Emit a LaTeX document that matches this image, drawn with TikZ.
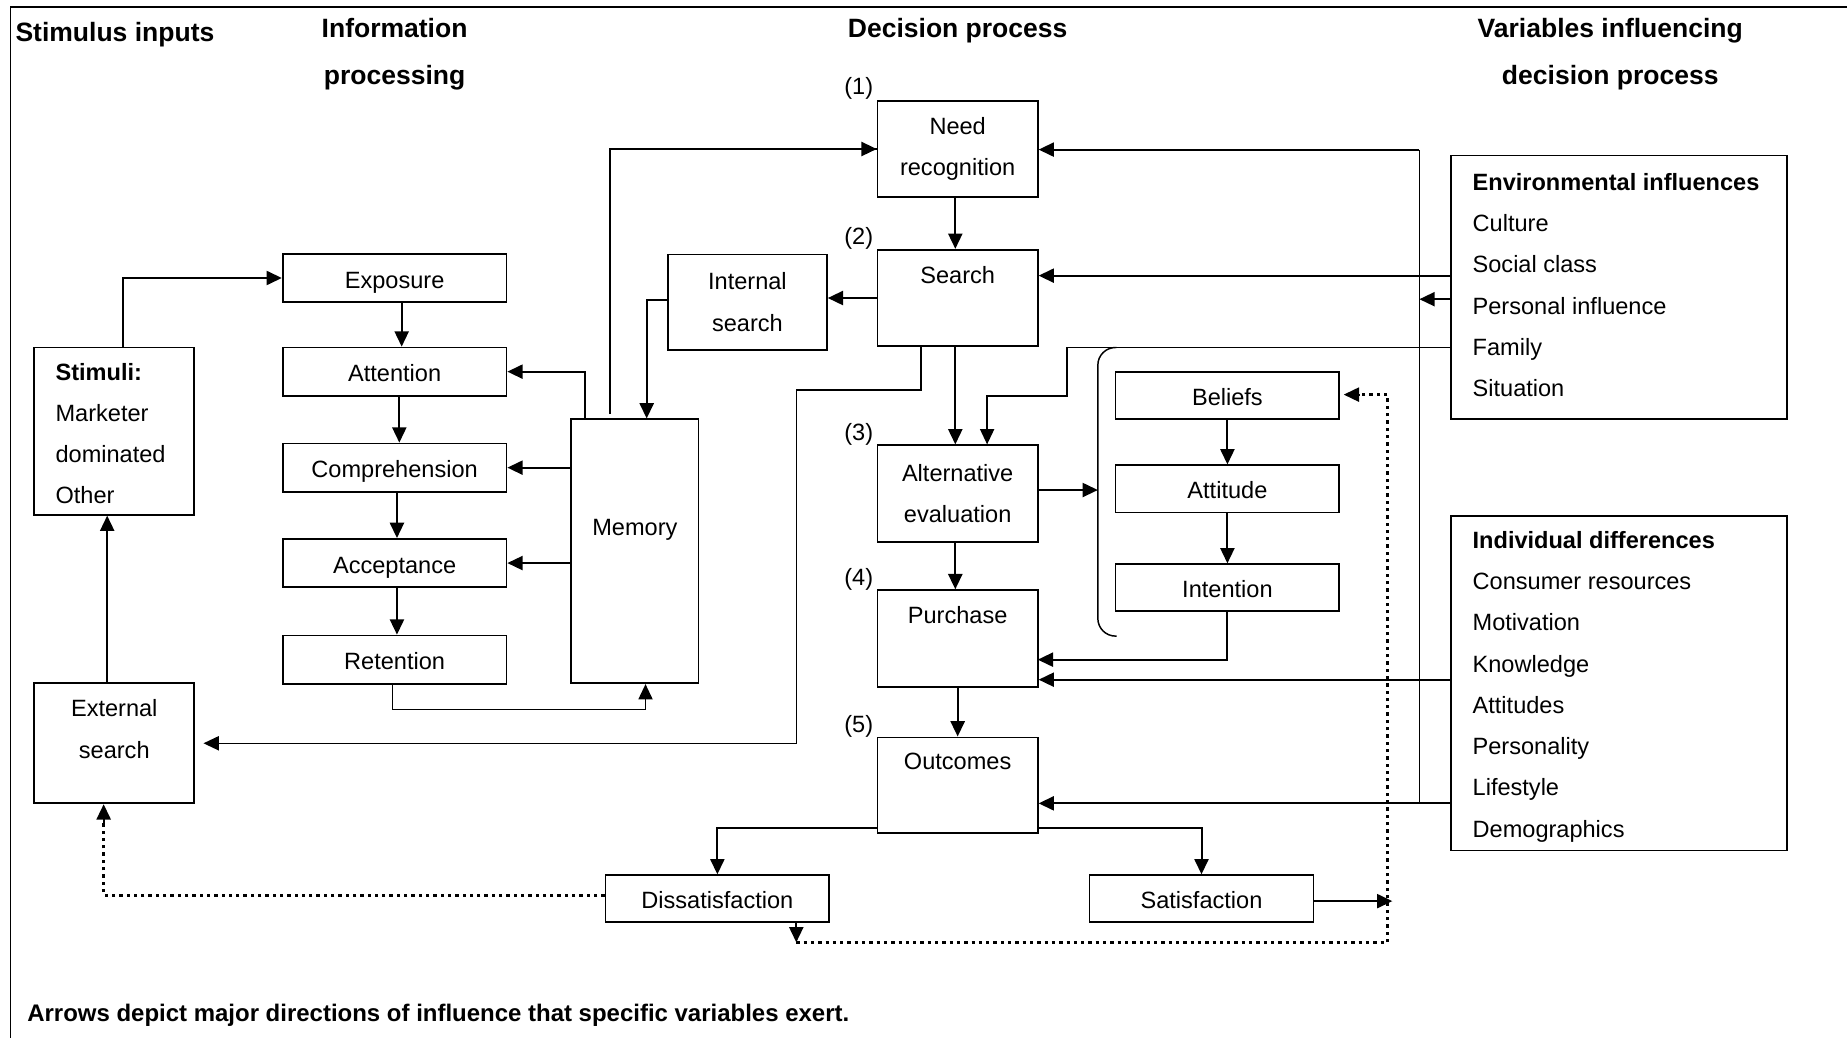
\documentclass[tikz,border=0pt]{standalone}
\usepackage{fontspec}
\setmainfont{Liberation Sans}
\usetikzlibrary{arrows.meta}
\begin{document}
\begin{tikzpicture}[x=1pt,y=-1pt,
  every node/.style={font=\fontsize{20}{35}\selectfont, inner sep=0pt},
  box/.style={draw, line width=1.5pt, align=center},
  oneline/.style={text height=22pt, text depth=5pt},
  conn/.style={line width=1.7pt},
  thinline/.style={line width=1.25pt},
  arr/.style={conn, -{Triangle[length=13pt,width=12pt]}},
  thinarr/.style={thinline, -{Triangle[length=13pt,width=12pt]}},
  dotline/.style={line width=2.8pt, dash pattern=on 2.8pt off 3.4pt},
  head/.style={font=\fontsize{22.5}{40}\selectfont\bfseries, align=center},
  numlabel/.style={font=\fontsize{20}{24}\selectfont},
]
\useasboundingbox (0,0) rectangle (1568,881);

% frame
\draw[line width=1.5pt] (9,881) -- (9,6) -- (1568,6);

% column headings
\node[head, anchor=west] (h-stim) at (13,29) {Stimulus inputs};
\node[head] (h-info) at (335,46) {Information\\processing};
\node[head] (h-dec) at (813,26) {Decision process};
\node[head] (h-var) at (1367,46) {Variables influencing\\decision process};

% stimulus inputs
\node[box, minimum width=136pt, minimum height=142pt] (stimuli) at (97,366) {};
\node[anchor=west, align=left] (stimuli-t) at (47,368) {\textbf{Stimuli:}\\Marketer\\dominated\\Other};
\node[box, minimum width=136pt, minimum height=102pt] (external) at (97,631) {};
\node[align=center] (external-t) at (97,619) {External\\search};

% information processing
\node[box, oneline, minimum width=190pt, minimum height=41pt] (exposure) at (335,236) {Exposure};
\node[box, oneline, minimum width=190pt, minimum height=41pt] (attention) at (335,315.5) {Attention};
\node[box, oneline, minimum width=190pt, minimum height=41pt] (comprehension) at (335,397) {Comprehension};
\node[box, oneline, minimum width=190pt, minimum height=41pt] (acceptance) at (335,478) {Acceptance};
\node[box, oneline, minimum width=190pt, minimum height=41pt] (retention) at (335,560) {Retention};
\node[box, minimum width=108pt, minimum height=224pt] (memory) at (539,468) {};
\node[oneline] (memory-t) at (539,446) {Memory};
\node[box, minimum width=135pt, minimum height=81pt] (internal) at (634.5,256.5) {Internal\\search};

% decision process
\node[numlabel] (n1) at (729,75) {(1)};
\node[numlabel] (n2) at (729,202) {(2)};
\node[numlabel] (n3) at (729,369) {(3)};
\node[numlabel] (n4) at (729,492) {(4)};
\node[numlabel] (n5) at (729,617) {(5)};
\node[box, minimum width=136pt, minimum height=81pt] (need) at (813,126.5) {Need\\recognition};
\node[box, minimum width=136pt, minimum height=82pt] (search) at (813,253) {};
\node[oneline] (search-t) at (813,232) {Search};
\node[box, minimum width=136pt, minimum height=82pt] (alteval) at (813,419) {Alternative\\evaluation};
\node[box, minimum width=136pt, minimum height=82pt] (purchase) at (813,542) {};
\node[oneline] (purchase-t) at (813,521) {Purchase};
\node[box, minimum width=136pt, minimum height=81pt] (outcomes) at (813,666.5) {};
\node[oneline] (outcomes-t) at (813,645) {Outcomes};
\node[box, oneline, minimum width=190pt, minimum height=40pt] (dissat) at (609,763) {Dissatisfaction};
\node[box, oneline, minimum width=190pt, minimum height=40pt] (sat) at (1020,763) {Satisfaction};

% beliefs / attitude / intention
\node[box, oneline, minimum width=190pt, minimum height=40pt] (beliefs) at (1042,336) {Beliefs};
\node[box, oneline, minimum width=190pt, minimum height=40pt] (attitude) at (1042,415) {Attitude};
\node[box, oneline, minimum width=190pt, minimum height=40pt] (intention) at (1042,499) {Intention};

% variables influencing the decision process
\node[box, minimum width=285pt, minimum height=224pt] (env) at (1374.5,244) {};
\node[anchor=west, align=left] (env-t) at (1250,242) {\textbf{Environmental influences}\\Culture\\Social class\\Personal influence\\Family\\Situation};
\node[box, minimum width=285pt, minimum height=284pt] (indiv) at (1374.5,580) {};
\node[anchor=west, align=left] (indiv-t) at (1250,583) {\textbf{Individual differences}\\Consumer resources\\Motivation\\Knowledge\\Attitudes\\Personality\\Lifestyle\\Demographics};

% footnote
\node[anchor=west, font=\fontsize{20.35}{24}\selectfont\bfseries] (note) at (23,862) {Arrows depict major directions of influence that specific variables exert.};

% turning points of the connectors
\coordinate (ex1) at (676,331);
\coordinate (fam1) at (906,336);
\coordinate (brk) at (932,416);
\coordinate (v1) at (1205,127);
\coordinate (v2) at (1205,682);
\coordinate (k-search) at (1232,234);
\coordinate (k-pers) at (1232,254);
\coordinate (k-fam) at (1232,295);
\coordinate (k-know) at (1232,577);
\coordinate (k-life) at (1232,682);
\coordinate (p-int) at (881,560);
\coordinate (o-left) at (745,703);
\coordinate (o-right) at (881,703);
\coordinate (s-end) at (1182,765);
\coordinate (d1) at (676,800);
\coordinate (d2) at (1178,800);
\coordinate (d3) at (1178,335);
\coordinate (d4) at (1154,335);
\coordinate (e1) at (88,760);
\coordinate (e2) at (88,699);

% stimulus inputs connectors
\draw[arr] ([xshift=7pt]stimuli.north) |- (exposure.west);
\draw[arr] ([xshift=-6pt]external.north) -- ([xshift=-6pt]stimuli.south);

% information processing chain
\draw[arr] ([xshift=6pt]exposure.south) -- ([xshift=6pt]attention.north);
\draw[arr] ([xshift=4pt]attention.south) -- ([xshift=4pt]comprehension.north);
\draw[arr] ([xshift=2pt]comprehension.south) -- ([xshift=2pt]acceptance.north);
\draw[arr] ([xshift=2pt]acceptance.south) -- ([xshift=2pt]retention.north);
\draw[arr] ([xshift=-42pt]memory.north) |- (attention.east);
\draw[arr] (memory.west |- comprehension.east) -- (comprehension.east);
\draw[arr] (memory.west |- acceptance.east) -- (acceptance.east);
\draw[thinarr] ([xshift=-2pt]retention.south) -- ++(0,21) -| ([xshift=9pt]memory.south);
\draw[thinline] ([xshift=-21pt,yshift=4pt]memory.north) |- (need.west);
\draw[arr] ([xshift=-21pt]memory.north |- need.west) -- (need.west);
\draw[arr] (search.west) -- (internal.east |- search.west);
\draw[arr] ([yshift=2pt]internal.west) -| ([xshift=10pt]memory.north);

% decision stages
\draw[arr] ([xshift=-2pt]need.south) -- ([xshift=-2pt]search.north);
\draw[arr] ([xshift=-2pt]search.south) -- ([xshift=-2pt]alteval.north);
\draw[arr] ([xshift=-2pt]alteval.south) -- ([xshift=-2pt]purchase.north);
\draw[arr] (purchase.south) -- (outcomes.north);
\draw[thinarr, shorten >=7pt] ([xshift=-31pt]search.south) |- (ex1) |- (external.east);

% evaluation block
\draw[thinarr] (k-fam) -| (fam1) -| ([xshift=25pt]alteval.north);
\draw[thinline, rounded corners=15pt] (948,295) -- (932,295) -- (932,540) -- (948,540);
\draw[arr] (alteval.east |- brk) -- (brk);
\draw[arr] (beliefs.south) -- (attitude.north);
\draw[arr] (attitude.south) -- (intention.north);
\draw[arr] (intention.south) |- (p-int);

% influences from the right-hand boxes
\draw[thinline] (v2) -- (v1);
\draw[arr] (v1) -- (v1 -| need.east);
\draw[arr] (k-search) -- (k-search -| search.east);
\draw[arr] (k-pers) -- (k-pers -| v1);
\draw[arr] (k-know) -- (k-know -| purchase.east);
\draw[arr] (k-life) -- (k-life -| outcomes.east);

% outcomes
\draw[arr] (o-left) -| (dissat.north);
\draw[arr] (o-right) -| (sat.north);
\draw[arr] (sat.east |- s-end) -- (s-end);
\draw[dotline] (d1) -- (d2) -- (d3) -- (d4);
\draw[arr] (d4) -- ([xshift=3pt]beliefs.east |- d4);
\draw[arr] (dissat.south -| d1) -- (d1);
\draw[dotline] ([yshift=3pt]dissat.west) -- (e1) -- (e2);
\draw[arr] (e2) -- (e2 |- external.south);
\end{tikzpicture}
\end{document}
